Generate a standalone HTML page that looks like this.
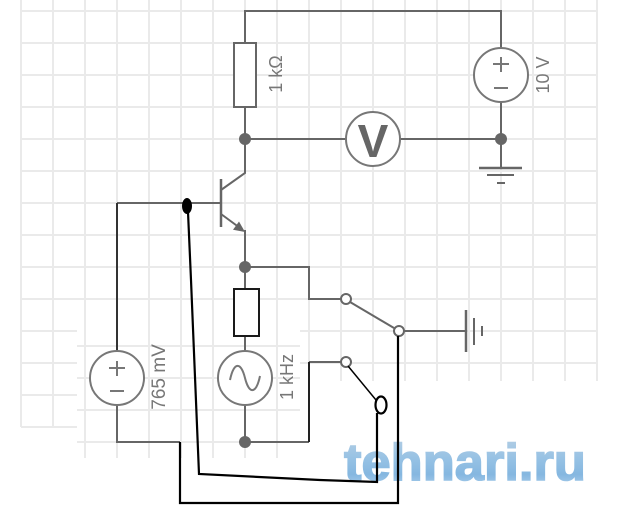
<!DOCTYPE html>
<html><head><meta charset="utf-8">
<style>
html,body{margin:0;padding:0;background:#fff;}
svg{display:block;}
text{font-family:"Liberation Sans",sans-serif;}
</style></head>
<body>
<svg width="640" height="512" viewBox="0 0 640 512" xmlns="http://www.w3.org/2000/svg">
<defs>
<linearGradient id="wm" x1="0" y1="0" x2="0" y2="1">
<stop offset="0" stop-color="#b8d0e4"/>
<stop offset="0.45" stop-color="#95c1e4"/>
<stop offset="0.7" stop-color="#85b7e0"/>
<stop offset="1" stop-color="#bad8ef"/>
</linearGradient>
</defs>
<!-- grid -->
<g stroke="#eaeaea" stroke-width="2" fill="none">
<path d="M21,0V427M53,0V427"/>
<path d="M85,0V458M117,0V458M149,0V458M181,0V458M213,0V458M245,0V458M277,0V458"/>
<path d="M309,0V381M341,0V381M373,0V381M405,0V381M437,0V381M469,0V381M501,0V381M533,0V381M565,0V381M597,0V381"/>
<path d="M21,11H597M21,43H597M21,75H597M21,107H597M21,139H597M21,171H597M21,203H597M21,235H597M21,267H597M21,299H597"/>
<path d="M21,331H77M300,331H597M21,363H77M300,363H597M21,395H77M21,427H77"/>
<path d="M77,346H300M77,378H300M77,410H300M77,442H300"/>
</g>
<!-- gray wires -->
<g stroke="#666" stroke-width="2" fill="none">
<path d="M245,43V11H501V48"/>
<path d="M501,102V168"/>
<path d="M245,107V173L221,190"/>
<path d="M117,203H221"/>
<path d="M221,214L240,228"/>
<path d="M245,230V289"/>
<path d="M245,139H346M400,139H501"/>
<path d="M245,336V351M245,405V442"/>
<path d="M245,267H309V299H341"/>
<path d="M245,442H309"/>
<path d="M309,362H341"/>
<path d="M350,302L394,328"/>
<path d="M404,331H466"/>
<path d="M117,405V442H180"/>
</g>
<path d="M221,179V227" stroke="#666" stroke-width="2.5"/>
<polygon points="245,232 233,229.7 239,221.5" fill="#666"/>
<path d="M309,442V362" stroke="#222" stroke-width="2" fill="none"/>
<path d="M117,203V351" stroke="#333" stroke-width="2" fill="none"/>
<!-- grounds -->
<g stroke="#666" fill="none">
<path d="M479,168H522" stroke-width="2.5"/>
<path d="M487,175H514" stroke-width="2"/>
<path d="M497,183H505" stroke-width="2"/>
<path d="M466,310V352" stroke-width="2.5"/>
<path d="M474,318V345" stroke-width="2"/>
<path d="M482,326V336" stroke-width="2"/>
</g>
<!-- resistors -->
<rect x="234" y="43" width="22" height="64" fill="#fff" stroke="#666" stroke-width="2"/>
<rect x="234" y="289" width="25" height="47" fill="#fff" stroke="#1a1a1a" stroke-width="2"/>
<!-- sources -->
<g fill="#fff" stroke="#777" stroke-width="2">
<circle cx="501" cy="75" r="27"/>
<circle cx="373" cy="139" r="27"/>
<circle cx="117" cy="378" r="27"/>
<circle cx="245" cy="378" r="27"/>
</g>
<g stroke="#777" stroke-width="2" fill="none">
<path d="M493,64H509M501,57V72M494,88H508"/>
<path d="M109,368H125M117,361V376M110,391H124"/>
<path d="M230,380C234,361 241,362 245,378C249,394 256,395 260,376"/>
</g>
<text x="373" y="157" font-size="46" font-weight="bold" fill="#666" text-anchor="middle">V</text>
<!-- labels -->
<g fill="#777" font-size="18">
<text transform="translate(282,74) rotate(-90)" text-anchor="middle">1 kΩ</text>
<text transform="translate(549,75) rotate(-90)" text-anchor="middle">10 V</text>
<text transform="translate(165,377) rotate(-90)" text-anchor="middle" font-size="19">765 mV</text>
<text transform="translate(293,377) rotate(-90)" text-anchor="middle">1 kHz</text>
</g>
<!-- nodes -->
<g fill="#666">
<circle cx="245" cy="139" r="6"/>
<circle cx="501" cy="139" r="6"/>
<circle cx="245" cy="267" r="6"/>
<circle cx="245" cy="442" r="6"/>
</g>
<!-- switch contacts -->
<g fill="#fff" stroke="#666" stroke-width="2">
<circle cx="346" cy="299" r="5"/>
<circle cx="346" cy="362" r="5"/>
<circle cx="399" cy="331" r="5"/>
</g>
<!-- watermark -->
<text x="344" y="480" font-size="52" font-weight="bold" fill="url(#wm)" stroke="url(#wm)" stroke-width="1.5" textLength="242" lengthAdjust="spacingAndGlyphs">tehnari.ru</text>
<!-- black hand-drawn -->
<g stroke="#000" stroke-width="2.2" fill="none">
<path d="M180,442V503H398V336"/>
<path d="M188,212L191,280L199,474L320,480L377,482V413"/>
<ellipse cx="381" cy="405" rx="5.5" ry="8.5"/>
</g>
<path d="M348,366L376,400" stroke="#000" stroke-width="1.5"/>
<ellipse cx="187" cy="206" rx="5" ry="8" fill="#000"/>
</svg>
</body></html>
